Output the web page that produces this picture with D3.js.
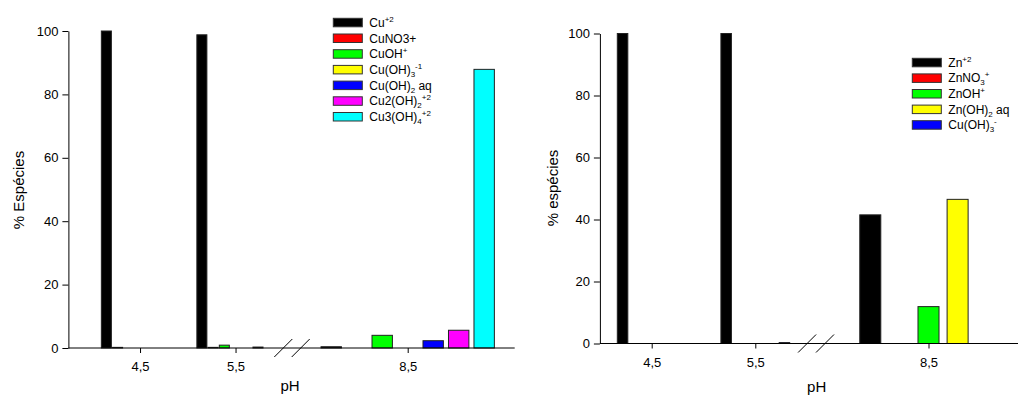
<!DOCTYPE html>
<html>
<head>
<meta charset="utf-8">
<script src="https://cdn.jsdelivr.net/npm/d3@7"></script>
<style>
  body { margin: 0; background: #fff; }
  text { font-family: "Liberation Sans", Arial, sans-serif; fill: #000; }
</style>
</head>
<body>
<script>
// valores
var phValues = [4.5, 5.5, 8.5];
var phLabels = ["4,5", "5,5", "8,5"];
var yTicks = [0, 20, 40, 60, 80, 100];

var cuNames = ["Cu^{+2}", "CuNO3+", "CuOH^{+}", "Cu(OH)_{3}^{-1}", "Cu(OH)_{2} aq", "Cu2(OH)_{2}^{+2}", "Cu3(OH)_{4}^{+2}"];
var cuColors = ["#000000", "#ff0000", "#00ff00", "#ffff00", "#0000ff", "#ff00ff", "#00ffff"];
// uma linha por pH, um valor por espécie
var cuValues = [
    [100, 0.2, 0, 0, 0, 0, 0],
    [98.8, 0.2, 0.9, 0, 0, 0.3, 0],
    [0.4, 0, 4.0, 0, 2.3, 5.6, 87.9]
];

var znNames = ["Zn^{+2}", "ZnNO_{3}^{+}", "ZnOH^{+}", "Zn(OH)_{2} aq", "Cu(OH)_{3}^{-}"];
var znColors = ["#000000", "#ff0000", "#00ff00", "#ffff00", "#0000ff"];
var znValues = [
    [100, 0, 0, 0, 0],
    [100, 0, 0, 0, 0.3],
    [41.5, 0, 11.9, 46.5, 0]
];

var svg = d3.select('body').append('svg')
    .attr('width', 1018)
    .attr('height', 395);

// escreve texto com índices (_{ }) e expoentes (^{ })
function richText(sel, str) {
    var parts = str.match(/(\^\{[^}]*\}|_\{[^}]*\}|[^^_]+)/g);
    var cur = 0;
    parts.forEach(function(p) {
        var t = sel.append('tspan');
        if (p[0] == '^') {
            t.text(p.slice(2, -1)).attr('font-size', 8).attr('dy', -5 - cur);
            cur = -5;
        } else if (p[0] == '_') {
            t.text(p.slice(2, -1)).attr('font-size', 8).attr('dy', 3 - cur);
            cur = 3;
        } else {
            t.text(p).attr('dy', -cur);
            cur = 0;
        }
    });
}

function drawChart(c) {
    var g = svg.append('g');
    var yScale = d3.scaleLinear().domain([0, 100]).range([c.y0, c.y100]);

    // eixo x quebrado: dois trechos lineares
    c.segments.forEach(function(s) {
        s.scale = d3.scaleLinear().domain(s.domain).range(s.range);
    });
    function segFor(ph) {
        return c.segments.find(function(s) { return ph >= s.domain[0] && ph <= s.domain[1]; });
    }

    // barras
    phValues.forEach(function(ph, i) {
        var s = segFor(ph);
        var band = d3.scaleBand()
            .domain(d3.range(c.names.length))
            .range([s.scale(ph - c.groupWidth / 2), s.scale(ph + c.groupWidth / 2)])
            .paddingInner(s.pad);
        g.selectAll('.bar' + i)
            .data(c.values[i].map(function(v, j) { return {v: v, j: j}; }).filter(function(d) { return d.v > 0; }))
            .enter().append('rect')
            .attr('x', function(d) { return band(d.j); })
            .attr('y', function(d) { return yScale(d.v); })
            .attr('width', band.bandwidth())
            .attr('height', function(d) { return c.y0 - yScale(d.v); })
            .attr('fill', function(d) { return c.colors[d.j]; })
            .attr('stroke', '#222')
            .attr('stroke-width', 1);
    });

    // eixo x
    c.segments.forEach(function(s) {
        var vals = phValues.filter(function(p) { return p >= s.domain[0] && p <= s.domain[1]; });
        var ax = g.append('g')
            .attr('transform', 'translate(0,' + c.y0 + ')')
            .call(d3.axisBottom(s.scale).tickValues(vals)
                .tickFormat(function(p) { return phLabels[phValues.indexOf(p)]; })
                .tickSize(5).tickPadding(9));
        ax.select('.domain').remove();
        ax.selectAll('text').attr('font-size', 13).attr('font-family', null);
    });
    var first = c.segments[0], last = c.segments[c.segments.length - 1];
    g.append('line')
        .attr('x1', first.range[0]).attr('x2', last.range[1])
        .attr('y1', c.y0).attr('y2', c.y0)
        .attr('stroke', '#000');
    // marcas de quebra
    [first.range[1], last.range[0]].forEach(function(bx) {
        g.append('line')
            .attr('x1', bx - 9).attr('y1', c.y0 + 9)
            .attr('x2', bx + 9).attr('y2', c.y0 - 9)
            .attr('stroke', '#000');
    });

    // eixo y
    var ay = g.append('g')
        .attr('transform', 'translate(' + first.range[0] + ',0)')
        .call(d3.axisLeft(yScale).tickValues(yTicks).tickSize(6).tickSizeOuter(0).tickPadding(4));
    ay.selectAll('text').attr('font-size', 13).attr('font-family', null);

    // títulos
    g.append('text')
        .attr('x', c.xTitle[0]).attr('y', c.xTitle[1])
        .attr('text-anchor', 'middle').attr('font-size', 15)
        .text('pH');
    g.append('text')
        .attr('transform', 'translate(' + c.yTitle[0] + ',' + c.yTitle[1] + ') rotate(-90)')
        .attr('text-anchor', 'middle').attr('font-size', 15)
        .text(c.yLabel);

    // legenda
    c.names.forEach(function(n, i) {
        var ty = c.legend[1] + i * c.legend[2];
        g.append('rect')
            .attr('x', c.legend[0]).attr('y', ty)
            .attr('width', 29).attr('height', 8.5)
            .attr('fill', c.colors[i]).attr('stroke', '#333');
        var t = g.append('text')
            .attr('x', c.legend[0] + 36).attr('y', ty + 8.5)
            .attr('font-size', 12);
        richText(t, n);
    });
}

drawChart({
    names: cuNames, colors: cuColors, values: cuValues,
    y0: 348, y100: 31,
    groupWidth: 0.81,
    segments: [
        {domain: [3.75, 6], range: [68.4, 283.3], pad: 0.107},
        {domain: [8, 9], range: [300.7, 514.7], pad: 0.2}
    ],
    xTitle: [290, 391], yTitle: [24, 190], yLabel: '% Espécies',
    legend: [333.3, 18.3, 15.7]
});

drawChart({
    names: znNames, colors: znColors, values: znValues,
    y0: 343.5, y100: 33.5,
    groupWidth: 0.664,
    segments: [
        {domain: [4, 6], range: [599.9, 807.1], pad: 0.278},
        {domain: [8, 9], range: [825, 1032], pad: 0.278}
    ],
    xTitle: [816.7, 392], yTitle: [558, 188], yLabel: '% espécies',
    legend: [912.3, 58.3, 15.6]
});
</script>
</body>
</html>
